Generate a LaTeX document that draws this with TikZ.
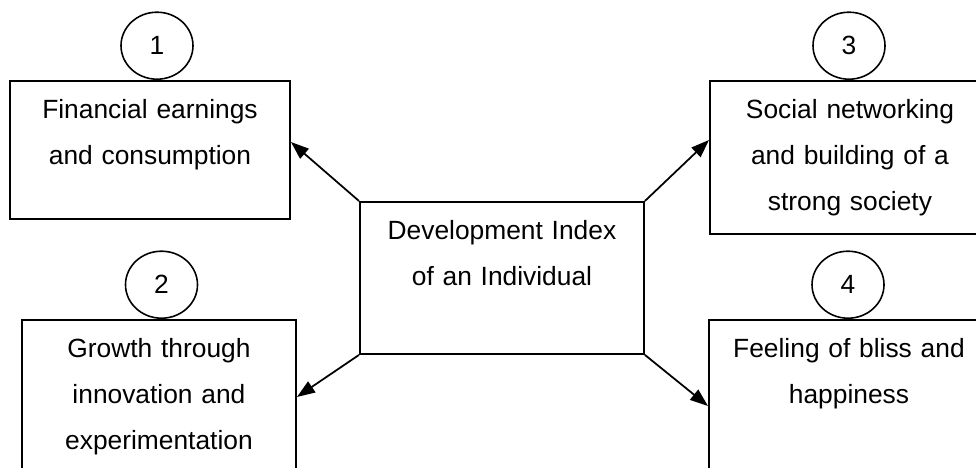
\documentclass[tikz,border=0pt]{standalone}
\usepackage{fontspec}
\setmainfont{Liberation Sans}
\usetikzlibrary{arrows.meta,shapes.geometric}

\begin{document}
\begin{tikzpicture}[
    line width=1.1pt, >={Triangle[length=3.6mm,width=2.6mm]},
    font=\fontsize{15pt}{26pt}\selectfont,
    outcome/.style={rectangle, draw, inner sep=0pt, align=center, text height=0.76cm},
    number/.style={ellipse, draw, line width=0.9pt, minimum width=1.44cm, minimum height=1.34cm, inner sep=0pt, anchor=south},
    link/.style={->, line width=1.0pt}]
  % fixed 19.52 cm x 9.36 cm canvas, boxes on the right and bottom run off it
  \path[use as bounding box] (0,0) rectangle (19.52,9.36);
  \clip (0,0) rectangle (19.52,9.36);

  % ================= centre =================
  \node[outcome, anchor=north west, text width=5.68cm, text depth=2.28cm] (dev) at (7.18,5.34)
    {Development Index\\of an Individual};

  % ================= four outcomes =================
  \node[outcome, anchor=north west, text width=5.6cm, text depth=2.0cm] (earn) at (0.18,7.76)
    {Financial earnings\\and consumption};
  \node[outcome, anchor=north west, text width=5.48cm, text depth=2.3cm] (growth) at (0.42,2.98)
    {Growth through\\innovation and\\experimentation};
  \node[outcome, anchor=north west, text width=5.6cm, text depth=2.3cm] (social) at (14.18,7.76)
    {Social networking\\and building of a\\strong society};
  \node[outcome, anchor=north west, text width=5.6cm, text depth=2.3cm] (bliss) at (14.16,2.98)
    {Feeling of bliss and\\happiness};

  % numbers sitting on the top edges
  \node[number] (n1) at (3.14,7.76) {1};
  \node[number] (n2) at (3.23,2.98) {2};
  \node[number] (n3) at (16.98,7.76) {3};
  \node[number] (n4) at (16.96,2.98) {4};

  % ================= arrows out of the corners =================
  \draw[link] (dev.north west) -- ([yshift=-1.24cm]earn.north east);
  \draw[link] (dev.north east) -- ([yshift=-1.2cm]social.north west);
  \draw[link] (dev.south west) -- ([yshift=-1.56cm]growth.north east);
  \draw[link] (dev.south east) -- ([yshift=-1.74cm]bliss.north west);
\end{tikzpicture}
\end{document}
